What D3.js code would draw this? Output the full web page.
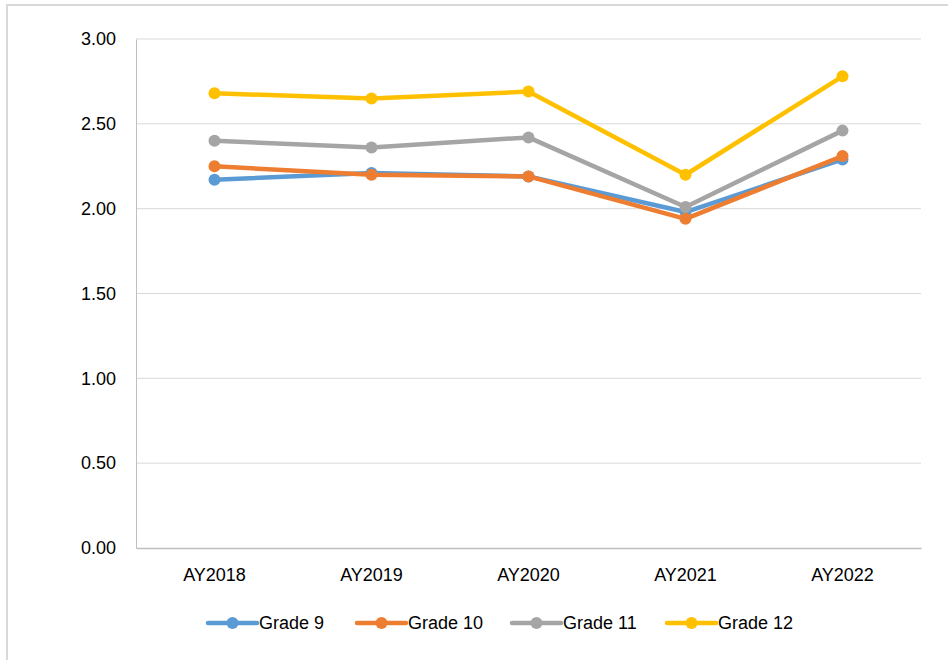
<!DOCTYPE html>
<html><head><meta charset="utf-8">
<script src="https://cdn.jsdelivr.net/npm/d3@7"></script>
<style>body{margin:0;background:#fff;}svg{display:block;}text{font-family:"Liberation Sans",Arial,sans-serif;fill:#000;}</style>
</head><body>
<script>
const categories = ["AY2018","AY2019","AY2020","AY2021","AY2022"];
const seriesNames = ["Grade 9","Grade 10","Grade 11","Grade 12"];
const grade9  = [2.17, 2.21, 2.19, 1.98, 2.29];
const grade10 = [2.25, 2.20, 2.19, 1.94, 2.31];
const grade11 = [2.40, 2.36, 2.42, 2.01, 2.46];
const grade12 = [2.68, 2.65, 2.69, 2.20, 2.78];
const yTicks = [0, 0.5, 1.0, 1.5, 2.0, 2.5, 3.0];
const colors = ["#5b9bd5","#ed7d31","#a5a5a5","#ffc000"];
const series = [grade9, grade10, grade11, grade12].map((v,i)=>({name:seriesNames[i], values:v, color:colors[i]}));

const W=948,H=660;
const svg=d3.select("body").append("svg").attr("width",W).attr("height",H);
// outer frame
svg.append("rect").attr("x",7).attr("y",5).attr("width",W+10).attr("height",H+10)
  .attr("fill","none").attr("stroke","#d9d9d9").attr("stroke-width",2);

const L=136,R=921,T=39,B=548;
const x=d3.scaleBand().domain(categories).range([L,R]);
const y=d3.scaleLinear().domain([0,3]).range([B,T]);

// gridlines
svg.append("g").selectAll("line").data(yTicks.filter(d=>d>0)).join("line")
  .attr("x1",L).attr("x2",R).attr("y1",d=>y(d)).attr("y2",d=>y(d))
  .attr("stroke","#d9d9d9").attr("stroke-width",1);

// y axis
const yAxis=d3.axisLeft(y).tickValues(yTicks).tickFormat(d3.format(".2f")).tickSize(0).tickPadding(20);
const gy=svg.append("g").attr("transform",`translate(${L},0)`).call(yAxis);
gy.select(".domain").attr("stroke","#bfbfbf").attr("stroke-width",1);
gy.selectAll("text").style("font-size","18px").attr("fill","#000");

// x axis
const xAxis=d3.axisBottom(x).tickSize(0).tickPadding(20);
const gx=svg.append("g").attr("transform",`translate(0,${B})`).call(xAxis);
gx.select(".domain").attr("stroke","#bfbfbf").attr("stroke-width",1.5);
gx.selectAll("text").style("font-size","18px").attr("fill","#000");

const cx=d=>x(d)+x.bandwidth()/2;
const line=d3.line().x((d,i)=>cx(categories[i])).y(d=>y(d));
series.forEach(s=>{
  const g=svg.append("g");
  g.append("path").attr("d",line(s.values)).attr("fill","none").attr("stroke",s.color)
    .attr("stroke-width",4.5).attr("stroke-linejoin","round").attr("stroke-linecap","round");
  g.selectAll("circle").data(s.values).join("circle")
    .attr("cx",(d,i)=>cx(categories[i])).attr("cy",d=>y(d)).attr("r",6).attr("fill",s.color);
});

// legend
const legendX=[208,357,512,667];
const lg=svg.append("g").attr("transform","translate(0,623)");
series.forEach((s,i)=>{
  const g=lg.append("g").attr("transform",`translate(${legendX[i]},0)`);
  g.append("line").attr("x1",0).attr("x2",49).attr("y1",0).attr("y2",0)
    .attr("stroke",s.color).attr("stroke-width",4.5).attr("stroke-linecap","round");
  g.append("circle").attr("cx",24.5).attr("cy",0).attr("r",6).attr("fill",s.color);
  g.append("text").attr("x",51).attr("y",0).attr("dy","0.35em").style("font-size","18px").text(s.name);
});
</script>
</body></html>
